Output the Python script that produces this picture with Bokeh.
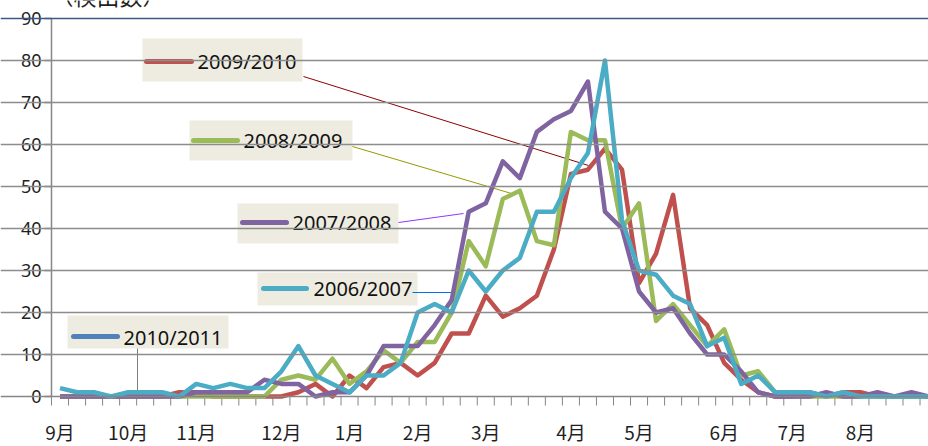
from bokeh.plotting import figure
from bokeh.models import Span, Label, Range1d
from bokeh.embed import file_html
from bokeh.resources import INLINE
from bokeh.core.properties import value

# ---------------- data ----------------
weeks = list(range(52))
month_labels = ["9月", "10月", "11月", "12月", "1月", "2月", "3月", "4月", "5月", "6月", "7月", "8月"]
month_pos = [0, 4, 8, 13, 17, 21, 25, 30, 34, 39, 43, 47]
week_bounds = [k - 0.5 for k in range(53)]
y_ticks = [0, 10, 20, 30, 40, 50, 60, 70, 80, 90]
y_tick_labels = [str(v) for v in y_ticks]
y_title = "（検出数）"

season_names = ["2010/2011", "2009/2010", "2008/2009", "2007/2008", "2006/2007"]

s2010_2011 = [0, 0, 0, 0, 0, 0]
s2009_2010 = [0, 0, 0, 0, 0, 0, 0, 1, 1, 0, 0, 0, 0, 0, 1, 3, 0, 5, 2, 7,
              8, 5, 8, 15, 15, 24, 19, 21, 24, 35, 53, 54, 59, 54, 27, 34, 48, 21, 17, 8,
              4, 1, 0, 0, 1, 0, 1, 1, 0, 0, 0, 0]
s2008_2009 = [0, 0, 0, 0, 0, 0, 0, 0, 0, 0, 0, 0, 0, 4, 5, 4, 9, 3, 6, 11,
              8, 13, 13, 20, 37, 31, 47, 49, 37, 36, 63, 61, 61, 40, 46, 18, 22, 17, 12, 16,
              5, 6, 1, 0, 0, 0, 0, 0, 0, 0, 0, 0]
s2007_2008 = [0, 0, 0, 0, 0, 0, 0, 0, 1, 1, 1, 1, 4, 3, 3, 0, 1, 1, 5, 12,
              12, 12, 17, 23, 44, 46, 56, 52, 63, 66, 68, 75, 44, 40, 25, 20, 21, 15, 10, 10,
              6, 1, 0, 0, 0, 1, 0, 0, 1, 0, 1, 0]
s2006_2007 = [2, 1, 1, 0, 1, 1, 1, 0, 3, 2, 3, 2, 2, 6, 12, 5, 3, 1, 5, 5,
              8, 20, 22, 20, 30, 25, 30, 33, 44, 44, 52, 58, 80, 42, 30, 29, 24, 22, 12, 14,
              3, 5, 1, 1, 1, 0, 1, 0, 0, 0, 0, 0]

series = [s2010_2011, s2009_2010, s2008_2009, s2007_2008, s2006_2007]
colors = ["#4F81BD", "#C0504D", "#9BBB59", "#8064A2", "#4BACC6"]

# ---------------- layout helpers (picture pixels -> data) ----------------
W, H = 928, 446
PX_X = 17.03          # pixels per week
PX_Y = 4.2            # pixels per case
AXIS_X = 51           # picture x of the value axis
ZERO_Y = 396          # picture y of value 0
GRID = "#8C8C8C"
AXIS = "#868686"
INK = "#1F1F1F"


def dx(px):
    return (px - AXIS_X) / PX_X - 0.5


def dy(py):
    return (ZERO_Y - py) / PX_Y


p = figure(width=W, height=H, output_backend="svg", toolbar_location=None,
           x_range=Range1d(dx(0), dx(W)), y_range=Range1d(dy(H), dy(0)),
           min_border_left=0, min_border_right=0, min_border_top=0, min_border_bottom=0)
p.outline_line_color = None
p.background_fill_color = "white"
p.border_fill_color = "white"
p.xaxis.visible = False
p.yaxis.visible = False
p.xgrid.grid_line_color = None
p.ygrid.grid_line_color = None

# horizontal gridlines (value axis)
for v in y_ticks[1:-1]:
    p.add_layout(Span(location=v, dimension="width", line_color=GRID, line_width=1.5))
p.add_layout(Span(location=y_ticks[-1], dimension="width", line_color="#3A5A85", line_width=1.5))
p.add_layout(Span(location=0, dimension="width", line_color=AXIS, line_width=1.5))

# value axis line, tick marks and tick labels
p.segment(x0=[-0.5], y0=[0], x1=[-0.5], y1=[y_ticks[-1]], line_color=AXIS, line_width=1.5)
p.segment(x0=[dx(AXIS_X - 7)] * len(y_ticks), y0=y_ticks, x1=[-0.5] * len(y_ticks), y1=y_ticks,
          line_color=AXIS, line_width=1.5)
p.text(x=[dx(41)] * len(y_ticks), y=y_ticks, text=y_tick_labels,
       text_font=value("Noto Sans"), text_font_size="18px", text_color=INK,
       text_align="right", text_baseline="middle")

# category axis: week-boundary tick marks and month labels
p.segment(x0=week_bounds, y0=[0] * len(week_bounds), x1=week_bounds,
          y1=[dy(ZERO_Y + 9)] * len(week_bounds), line_color=AXIS, line_width=1)
p.text(x=month_pos, y=[dy(431)] * len(month_pos), text=month_labels,
       text_font=value("Noto Sans CJK JP"), text_font_size="19px", text_color=INK,
       text_align="center", text_baseline="middle")

# label boxes (picture pixel geometry)
boxes = [  # left, right, top, bottom
    (67, 228, 315, 348),
    (142, 302, 38, 81),
    (189, 352, 120, 160),
    (237, 398, 203, 243),
    (257, 417, 272, 305),
]
samples = [  # x0, x1, y
    (73, 117, 336),
    (146, 191, 61),
    (193, 237, 140),
    (242, 286, 222),
    (263, 306, 288),
]
text_xy = [(123, 337), (197, 61), (243, 140), (292, 222), (313, 288)]
leaders = [  # x0, y0, x1, y1, color
    (137, 348, 137, 393, "#7F7F7F"),
    (303, 76, 588, 165, "#8B0000"),
    (352, 146, 511, 193, "#999900"),
    (398, 222, 463, 213, "#9933FF"),
    (412, 292, 460, 292, "#0070F0"),
]

p.quad(left=[dx(b[0]) for b in boxes], right=[dx(b[1]) for b in boxes],
       top=[dy(b[2]) for b in boxes], bottom=[dy(b[3]) for b in boxes],
       fill_color="#EEECE1", line_color=None)

for (x0, y0, x1, y1, c) in leaders:
    p.segment(x0=[dx(x0)], y0=[dy(y0)], x1=[dx(x1)], y1=[dy(y1)], line_color=c, line_width=1)

# data lines
for s, c in zip(series, colors):
    p.line(weeks[:len(s)], s, line_color=c, line_width=4.5, line_join="round")

for (x0, x1, y), c in zip(samples, colors):
    p.segment(x0=[dx(x0)], y0=[dy(y)], x1=[dx(x1)], y1=[dy(y)], line_color=c, line_width=5,
              line_cap="round")

p.text(x=[dx(t[0]) for t in text_xy], y=[dy(t[1]) for t in text_xy], text=season_names,
       text_font=value("Noto Sans"), text_font_size="20px", text_color="#111111",
       text_align="left", text_baseline="middle")

# axis title, mostly above the picture's top edge as in the reference
p.add_layout(Label(x=dx(50), y=dy(11), text=y_title, text_align="left", text_baseline="bottom",
                   text_font="Noto Sans CJK JP", text_font_size="23px", text_color=INK))

open("out.html", "w").write(file_html(p, INLINE))
